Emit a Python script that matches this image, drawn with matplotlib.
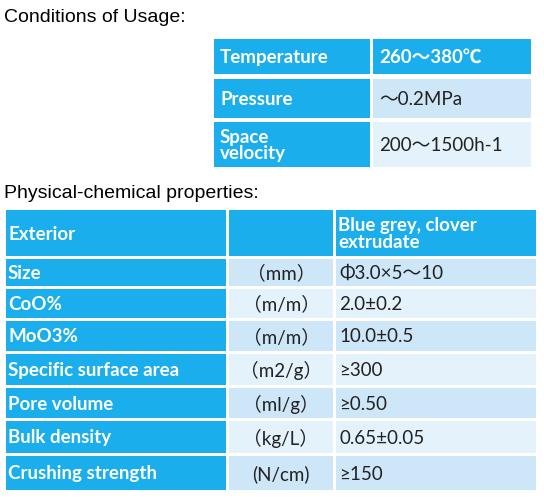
import matplotlib; matplotlib.use("Agg")
import matplotlib.pyplot as plt
from matplotlib.patches import Rectangle

BLUE   = "#1aaeec"
LIGHT1 = "#cde7f8"
LIGHT2 = "#e4f2fb"
FONT   = ["Lato", "Noto Sans CJK SC", "DejaVu Sans"]

usage_names  = ["Temperature", "Pressure", "Space\nvelocity"]
usage_values = ["260～380℃", "～0.2MPa", "200～1500h-1"]

prop_names  = ["Exterior", "Size", "CoO%", "MoO3%", "Specific surface area",
               "Pore volume", "Bulk density", "Crushing strength"]
prop_units  = ["", "（mm）", "（m/m）", "（m/m）", "（m2/g）", "（ml/g）", "（kg/L）", "(N/cm)"]
prop_values = ["Blue grey, clover\nextrudate", "Φ3.0×5～10", "2.0±0.2", "10.0±0.5",
               "≥300", "≥0.50", "0.65±0.05", "≥150"]

fig = plt.figure(figsize=(5.44, 5.00), dpi=100)
ax = fig.add_axes([0, 0, 1, 1])
ax.set_xlim(0, 544); ax.set_ylim(500, 0); ax.axis("off")


def cell(x0, x1, y0, y1, text, fill, color, bold, size=13.5, pad=6, ha="left"):
    ax.add_patch(Rectangle((x0, y0), x1 - x0, y1 - y0, facecolor=fill, edgecolor="none"))
    tx = x0 + pad if ha == "left" else (x0 + x1) / 2
    ax.text(tx, (y0 + y1) / 2 + 1, text, ha=ha, va="center", color=color, fontsize=size,
            fontweight="bold" if bold else "normal", family=FONT, linespacing=0.95)


ax.text(4, 18, "Conditions of Usage:", fontsize=14, family=["Liberation Sans"], va="center")
top_rows = [(39, 74), (79, 118), (122, 167)]
for i, (y0, y1) in enumerate(top_rows):
    cell(214, 370, y0, y1, usage_names[i], BLUE, "white", True)
    if i == 0:
        cell(373, 531, y0, y1, usage_values[i], BLUE, "white", True)
    else:
        cell(373, 531, y0, y1, usage_values[i], LIGHT1 if i == 1 else LIGHT2, "#222222", False)

ax.text(4, 193, "Physical-chemical properties:", fontsize=14, family=["Liberation Sans"], va="center")
bot_rows = [(210, 256), (259, 286), (289, 318), (321, 351), (354, 385), (388, 418), (421, 453), (456, 490)]
for i, (y0, y1) in enumerate(bot_rows):
    cell(6, 226, y0, y1, prop_names[i], BLUE, "white", True, pad=2)
    if i == 0:
        cell(229, 333, y0, y1, prop_units[i], BLUE, "white", False)
        cell(336, 536, y0, y1, prop_values[i], BLUE, "white", True, pad=2)
    else:
        fill = LIGHT1 if i % 2 == 1 else LIGHT2
        cell(229, 333, y0, y1, prop_units[i], fill, "#222222", False, ha="center")
        cell(336, 536, y0, y1, prop_values[i], fill, "#222222", False, pad=3)

fig.savefig("out.png", dpi=100)
